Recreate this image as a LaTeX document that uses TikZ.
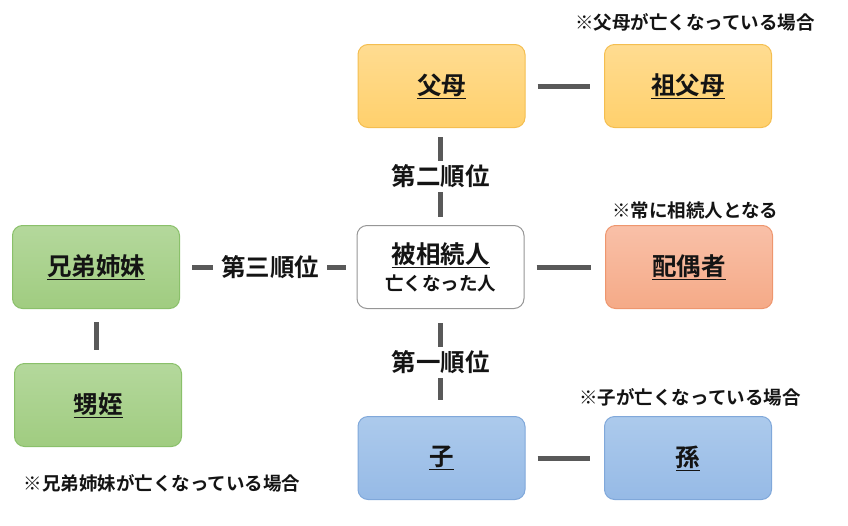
\documentclass[tikz,border=0pt]{standalone}
\usepackage{fontspec}
\setmainfont{Noto Sans CJK JP}[BoldFont={* Bold}]
\newfontfamily\jpb{Noto Sans CJK JP Bold}
\usetikzlibrary{positioning}
\definecolor{lineg}{RGB}{89,89,89}
\definecolor{orT}{RGB}{255,220,145}\definecolor{orB}{RGB}{255,208,108}\definecolor{orD}{RGB}{244,190,80}
\definecolor{grT}{RGB}{180,216,156}\definecolor{grB}{RGB}{160,204,128}\definecolor{grD}{RGB}{138,192,106}
\definecolor{saT}{RGB}{249,192,168}\definecolor{saB}{RGB}{245,170,135}\definecolor{saD}{RGB}{238,150,110}
\definecolor{blT}{RGB}{172,202,236}\definecolor{blB}{RGB}{150,186,230}\definecolor{blD}{RGB}{128,168,218}
\definecolor{wbD}{RGB}{150,150,150}
\definecolor{txt}{RGB}{20,20,20}
\newcommand{\ul}[1]{\underline{#1}}
\begin{document}
\begin{tikzpicture}[x=1pt,y=-1pt,
  box/.style={rounded corners=10pt,minimum width=167pt,minimum height=83pt,line width=1pt,
    font=\jpb\fontsize{24.5}{28}\selectfont,align=center,text=txt},
  orbox/.style={box,draw=orD,top color=orT,bottom color=orB},
  grbox/.style={box,draw=grD,top color=grT,bottom color=grB},
  sabox/.style={box,draw=saD,top color=saT,bottom color=saB},
  blbox/.style={box,draw=blD,top color=blT,bottom color=blB},
  wbox/.style={box,draw=wbD,fill=white},
  conn/.style={draw=lineg,line width=5pt},
  lab/.style={fill=white,text=txt,font=\jpb\fontsize{24.5}{28}\selectfont},
  note/.style={text=txt,font=\jpb\fontsize{18.5}{22}\selectfont}]
\useasboundingbox (0,0) rectangle (848,525);
\node[orbox] (fubo) at (441.5,86) {\ul{父母}};
\node[orbox] (sofubo) at (688,86) {\ul{祖父母}};
\node[wbox] (hi) at (440.5,267) {\ul{被相続人}\\[-1pt]{\fontsize{18.5}{22}\selectfont 亡くなった人}};
\node[sabox] (hai) at (689,267) {\ul{配偶者}};
\node[grbox] (kyo) at (96,267) {\ul{兄弟姉妹}};
\node[grbox] (oi) at (98,405) {\ul{甥姪}};
\node[blbox] (ko) at (441.5,458) {\ul{子}};
\node[blbox] (mago) at (688,458) {\ul{孫}};
% connectors
\draw[conn,shorten <=12pt,shorten >=14pt] (fubo) -- (sofubo);
\draw[conn,shorten <=12pt,shorten >=14pt] (hi) -- (hai);
\draw[conn,shorten <=12pt,shorten >=14pt] (ko) -- (mago);
\draw[conn,shorten <=13pt,shorten >=13pt] (kyo.south) -- (kyo.south|-oi.north);
\draw[conn,shorten <=9pt,shorten >=8pt] (fubo.south-|hi.north) -- (hi.north)
  node[lab,pos=0.50,inner sep=4pt] (l2) {第二順位};
\draw[conn,shorten <=14pt,shorten >=16pt] (hi.south) -- (hi.south|-ko.north)
  node[lab,pos=0.50,inner sep=4pt] (l1) {第一順位};
\draw[conn,shorten <=12pt,shorten >=11pt] (kyo.east) -- (hi.west)
  node[lab,pos=0.51,inner xsep=8pt] (l3) {第三順位};
% notes
\node[note] (n1) at (695,22) {※父母が亡くなっている場合};
\node[note] (n2) at (695,210) {※常に相続人となる};
\node[note] (n3) at (690,397) {※子が亡くなっている場合};
\node[note] (n4) at (162,483) {※兄弟姉妹が亡くなっている場合};
\end{tikzpicture}
\end{document}
